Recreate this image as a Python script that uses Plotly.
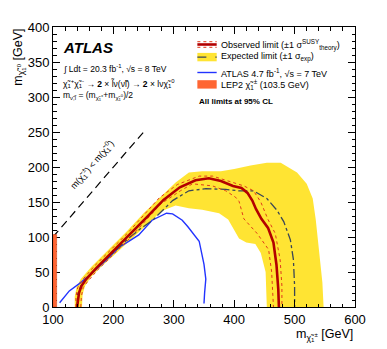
import plotly.graph_objects as go

# observed limit (thick dark red)
obs_x = [140, 141, 143, 147, 155, 172, 200, 228, 255, 283, 310, 336, 358, 378, 398, 412, 422, 430, 436, 445, 456, 465, 470, 473, 474]
obs_y = [0, 10, 20, 30, 40, 56, 80, 104, 128, 153, 171, 181, 184, 180, 173, 170, 163, 152, 140, 126, 113, 92, 60, 25, 0]

# observed +1 sigma theory (outer dotted)
obs_up_x = [138, 138, 141, 150, 168, 196, 224, 250, 276, 306, 342, 364, 391, 416, 432, 444, 456, 468, 476, 479, 479]
obs_up_y = [0, 15, 28, 40, 58, 82, 106, 131, 156, 175, 187, 187, 180, 173, 166, 150, 125, 105, 68, 30, 0]

# observed -1 sigma theory (inner dotted)
obs_dn_x = [146, 147, 150, 158, 174, 201, 228, 252, 278, 311, 331, 364, 386, 402, 408, 416, 438, 457, 462, 465]
obs_dn_y = [0, 15, 28, 37, 53, 76, 99, 122, 147, 166, 176, 173, 166, 157, 151, 126, 105, 82, 50, 0]

# expected limit (dash-dot)
exp_x = [140, 141, 146, 155, 172, 200, 225, 245, 265, 298, 325, 353, 386, 408, 432, 454, 471, 482, 493, 498, 500, 500]
exp_y = [0, 18, 30, 40, 56, 78, 98, 112, 124, 152, 166, 169, 168, 166, 166, 155, 138, 122, 96, 68, 30, 0]

# expected +-1 sigma band, outer edge then inner edge
band_out_x = [136, 136, 139, 146, 164, 194, 222, 250, 278, 303, 325, 347, 378, 400, 427, 454, 477, 504, 520, 530, 535, 540, 546, 548]
band_out_y = [0, 15, 28, 40, 58, 84, 108, 134, 158, 178, 192, 194, 194, 197, 202, 206, 206, 192, 176, 155, 125, 82, 35, 0]
band_in_x = [454, 452, 444, 435, 420, 408, 397, 390, 375, 347, 325, 303, 280, 258, 232, 205, 178, 162, 153, 149, 148]
band_in_y = [0, 50, 77, 90, 92, 98, 115, 125, 134, 139, 141, 145, 137, 120, 99, 77, 56, 42, 30, 18, 0]

# ATLAS 4.7 fb-1, 7 TeV
atlas7_x = [111, 127, 143, 160, 187, 209, 226, 242, 264, 288, 298, 314, 323, 342, 350, 353, 351, 350]
atlas7_y = [6, 23, 33, 45, 66, 85, 94, 103, 124, 134, 133, 124, 115, 94, 61, 40, 20, 5]

lep_mass = 103.5
diag = [100, 250]

YELLOW = "#ffe433"
RED = "#b30000"
DOT = "#e03a1a"
EXPC = "#3a4656"
BLUE = "#2233ff"
LEPC = "#ff6633"
FONT = "Liberation Sans, Arial, sans-serif"

fig = go.Figure()

fig.add_trace(go.Scatter(x=band_out_x + band_in_x, y=band_out_y + band_in_y, fill="toself",
                         fillcolor=YELLOW, line=dict(width=0), mode="lines"))
fig.add_shape(type="rect", x0=100, x1=lep_mass + 2.5, y0=0, y1=lep_mass,
              fillcolor=LEPC, line=dict(width=0.6, color="#d84a20"), layer="above")
fig.add_trace(go.Scatter(x=diag, y=diag, mode="lines",
                         line=dict(color="black", width=1.2, dash="8px,5px")))
fig.add_trace(go.Scatter(x=atlas7_x, y=atlas7_y, mode="lines",
                         line=dict(color=BLUE, width=1.4)))
fig.add_trace(go.Scatter(x=exp_x, y=exp_y, mode="lines",
                         line=dict(color=EXPC, width=1.3, dash="dashdot")))
fig.add_trace(go.Scatter(x=obs_up_x, y=obs_up_y, mode="lines",
                         line=dict(color=DOT, width=1, dash="dot")))
fig.add_trace(go.Scatter(x=obs_dn_x, y=obs_dn_y, mode="lines",
                         line=dict(color=DOT, width=1, dash="dot")))
fig.add_trace(go.Scatter(x=obs_x, y=obs_y, mode="lines",
                         line=dict(color=RED, width=2.6)))

# hand-made legend
lx0, lx1, ltx = 339, 371, 375
rows = [375, 357, 335, 318]
fig.add_shape(type="line", x0=lx0, x1=lx1, y0=rows[0], y1=rows[0], line=dict(color=RED, width=2.6))
for dy in (4, -4):
    fig.add_shape(type="line", x0=lx0, x1=lx1, y0=rows[0] + dy, y1=rows[0] + dy,
                  line=dict(color=DOT, width=1, dash="dot"))
fig.add_shape(type="rect", x0=lx0, x1=lx1, y0=rows[1] - 6, y1=rows[1] + 6,
              fillcolor=YELLOW, line=dict(width=0))
fig.add_shape(type="line", x0=lx0, x1=lx1, y0=rows[1], y1=rows[1], line=dict(color=EXPC, width=1.3, dash="dash"))
fig.add_shape(type="line", x0=lx0, x1=lx1, y0=rows[2], y1=rows[2], line=dict(color=BLUE, width=1.4))
fig.add_shape(type="rect", x0=lx0, x1=lx1, y0=rows[3] - 6, y1=rows[3] + 6,
              fillcolor=LEPC, line=dict(width=0))

leg_txt = ["Observed limit (±1 σ<sup>SUSY</sup><sub>theory</sub>)",
           "Expected limit (±1 σ<sub>exp</sub>)",
           "ATLAS 4.7 fb<sup>-1</sup>, √s = 7 TeV",
           "LEP2 χ̃<sub>1</sub><sup>±</sup> (103.5 GeV)"]
for t, yy in zip(leg_txt, rows):
    fig.add_annotation(x=ltx, y=yy, text=t, showarrow=False, xanchor="left", yanchor="middle",
                       font=dict(size=9, color="black", family=FONT))
fig.add_annotation(x=lx0, y=293, text="<b>All limits at 95% CL</b>", showarrow=False,
                   xanchor="left", yanchor="middle", font=dict(size=8, color="black", family=FONT))

# top-left labels
fig.add_annotation(x=114, y=371, text="<b><i>ATLAS</i></b>", showarrow=False, xanchor="left",
                   yanchor="middle", font=dict(size=15, color="black", family=FONT))
info = ["∫ Ldt = 20.3 fb<sup>-1</sup>, √s = 8 TeV",
        "χ̃<sub>1</sub><sup>+</sup>χ̃<sub>1</sub><sup>-</sup> → <b>2</b> × l̃ν(ν̃l) → <b>2</b> × lνχ̃<sub>1</sub><sup>0</sup>",
        "m<sub>ν̃,l̃</sub> = (m<sub>χ̃<sub>1</sub><sup>±</sup></sub>+m<sub>χ̃<sub>1</sub><sup>0</sup></sub>)/2"]
for t, yy in zip(info, [341, 319, 302]):
    fig.add_annotation(x=113, y=yy, text=t, showarrow=False, xanchor="left", yanchor="middle",
                       font=dict(size=8.5, color="black", family=FONT))

fig.add_annotation(x=165, y=203, text="m(χ̃<sub>1</sub><sup>±</sup>) < m(χ̃<sub>1</sub><sup>0</sup>)",
                   showarrow=False, textangle=-49, font=dict(size=9, color="black", family=FONT))

# axis titles
fig.add_annotation(xref="paper", yref="paper", x=-0.115, y=1.0, text="m<sub>χ̃<sub>1</sub><sup>0</sup></sub> [GeV]",
                   showarrow=False, textangle=-90, xanchor="center", yanchor="top",
                   font=dict(size=12.5, color="black", family=FONT))
fig.add_annotation(xref="paper", yref="paper", x=1.0, y=-0.1, text="m<sub>χ̃<sub>1</sub><sup>±</sup></sub> [GeV]",
                   showarrow=False, xanchor="right", yanchor="middle",
                   font=dict(size=12.5, color="black", family=FONT))

axis_common = dict(showgrid=False, zeroline=False, showline=True, linecolor="black", linewidth=1,
                   mirror="allticks", ticks="inside", ticklen=7, tickcolor="black",
                   tickfont=dict(size=13, color="black", family=FONT))
fig.update_xaxes(range=[100, 600], dtick=100, tick0=100,
                 minor=dict(ticks="inside", dtick=20, ticklen=3.5, tickcolor="black"), **axis_common)
fig.update_yaxes(range=[0, 400], dtick=50,
                 minor=dict(ticks="inside", dtick=10, ticklen=3.5, tickcolor="black"), **axis_common)

# page body has an 8px margin, so the figure is a bit smaller than the window
fig.update_layout(width=379, height=341, margin=dict(l=45, r=32, t=14, b=42),
                  plot_bgcolor="white", paper_bgcolor="white", showlegend=False,
                  font=dict(family=FONT))

fig.write_html("out.html")
